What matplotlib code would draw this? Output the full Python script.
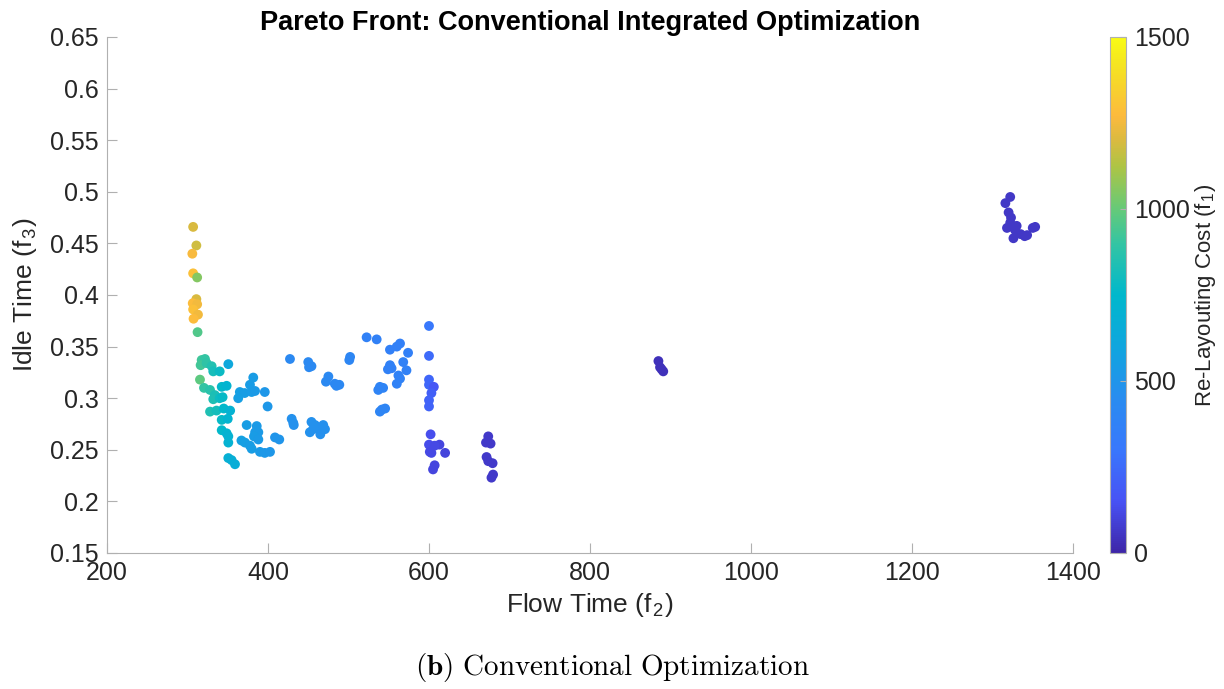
import numpy as np
import matplotlib
matplotlib.use("Agg")
import matplotlib.pyplot as plt
from matplotlib.colors import LinearSegmentedColormap

plt.rcParams['font.family'] = ['Liberation Sans', 'DejaVu Sans']
plt.rcParams['mathtext.fontset'] = 'cm'

# ---- data ----
flow_time = [
    307, 311, 306, 307, 312, 311, 306.5, 312, 307, 313, 307.5, 312.5,
    317.6, 321.7, 316.3, 323.7, 330, 332, 315.5, 340, 350.7, 320.5, 328, 342.5,
    348.6, 334, 332, 340, 343.6, 328, 336, 345, 353, 342.5, 350, 342.5, 348.6,
    350.7, 350.7, 350.7, 354.8, 359,
    381.7, 377.6, 365, 371, 379.7, 383.9, 363, 396, 399.5, 373.5, 386, 384, 388,
    382.6, 388, 367, 371.4, 377.6, 379.7, 390, 396, 402.5, 408.7, 414,
    427.3, 429.4, 431.4, 432, 450, 454, 451, 502, 501, 475, 472, 483, 488.6, 485,
    454, 458.4, 452, 462.5, 468.6, 470.8, 465, 456,
    522.5, 535, 551.5, 560, 564, 574, 568, 572, 551.5, 553.5, 549, 562, 564, 560,
    539, 543, 537, 539, 545.5, 541.5,
    600, 600, 600, 600, 606, 603, 600, 600, 602, 600, 613, 607, 603, 620, 601,
    607, 605,
    673.6, 670.8, 676.5, 671.5, 673.6, 679, 679.6, 677.6,
    885, 887, 891, 889,
    1316, 1322, 1320, 1323, 1322, 1318, 1325, 1330, 1328, 1326, 1335, 1340, 1343,
    1350, 1353,
]
idle_time = [
    0.466, 0.448, 0.440, 0.421, 0.417, 0.396, 0.392, 0.391, 0.386, 0.381, 0.377, 0.364,
    0.337, 0.338, 0.332, 0.334, 0.331, 0.326, 0.318, 0.326, 0.333, 0.310, 0.308, 0.311,
    0.312, 0.303, 0.299, 0.300, 0.301, 0.287, 0.288, 0.290, 0.288, 0.279, 0.280, 0.269,
    0.266, 0.263, 0.257, 0.242, 0.240, 0.236,
    0.320, 0.313, 0.306, 0.305, 0.306, 0.307, 0.300, 0.306, 0.292, 0.274, 0.273, 0.267,
    0.267, 0.263, 0.260, 0.259, 0.257, 0.254, 0.251, 0.248, 0.247, 0.248, 0.262, 0.260,
    0.338, 0.280, 0.276, 0.274, 0.335, 0.331, 0.330, 0.340, 0.337, 0.321, 0.316, 0.314,
    0.313, 0.312, 0.277, 0.274, 0.267, 0.271, 0.274, 0.270, 0.265, 0.270,
    0.359, 0.357, 0.347, 0.350, 0.353, 0.344, 0.335, 0.327, 0.332, 0.329, 0.328, 0.322,
    0.319, 0.314, 0.311, 0.310, 0.308, 0.287, 0.290, 0.289,
    0.370, 0.341, 0.318, 0.313, 0.311, 0.305, 0.298, 0.292, 0.265, 0.255, 0.255, 0.254,
    0.247, 0.247, 0.248, 0.235, 0.231,
    0.263, 0.257, 0.256, 0.243, 0.239, 0.237, 0.226, 0.223,
    0.336, 0.330, 0.326, 0.328,
    0.489, 0.495, 0.480, 0.475, 0.470, 0.465, 0.466, 0.467, 0.463, 0.455, 0.459, 0.457,
    0.458, 0.465, 0.466,
]
relayout_cost = [
    1200, 1180, 1260, 1290, 1050, 1200, 1280, 1250, 1290, 1250, 1280, 960,
    920, 900, 930, 890, 850, 820, 980, 780, 620, 900, 870, 760,
    720, 830, 840, 790, 770, 840, 810, 750, 700, 770, 720, 760,
    720, 700, 700, 680, 670, 660,
    540, 540, 560, 550, 540, 530, 560, 510, 510, 550, 530, 530,
    530, 540, 530, 570, 560, 550, 550, 530, 520, 510, 500, 500,
    430, 480, 480, 480, 430, 430, 430, 410, 410, 430, 430, 420,
    420, 420, 480, 480, 480, 480, 470, 470, 470, 480,
    370, 370, 360, 360, 360, 360, 370, 370, 370, 370, 370, 380,
    380, 380, 390, 390, 390, 400, 400, 400,
    300, 250, 230, 230, 170, 200, 220, 220, 140, 130, 110, 120,
    120, 100, 120, 110, 110,
    70, 70, 70, 70, 70, 70, 70, 70,
    40, 40, 40, 40,
    60, 60, 60, 60, 60, 60, 60, 60, 60, 60, 60, 60,
    60, 60, 60,
]

x_ticks = [200, 400, 600, 800, 1000, 1200, 1400]
y_ticks = [0.15, 0.2, 0.25, 0.3, 0.35, 0.4, 0.45, 0.5, 0.55, 0.6, 0.65]
y_tick_labels = ['0.15', '0.2', '0.25', '0.3', '0.35', '0.4', '0.45', '0.5', '0.55', '0.6', '0.65']
cb_ticks = [0, 500, 1000, 1500]

# parula-like colormap
parula_pts = [
    (0.000, (0.2422, 0.1504, 0.6603)),
    (0.100, (0.2810, 0.3228, 0.9579)),
    (0.200, (0.2200, 0.4700, 0.9900)),
    (0.300, (0.1600, 0.5500, 0.9400)),
    (0.400, (0.0600, 0.6500, 0.8700)),
    (0.500, (0.0000, 0.7200, 0.8000)),
    (0.600, (0.2000, 0.7700, 0.6400)),
    (0.667, (0.4000, 0.7900, 0.4700)),
    (0.750, (0.6800, 0.7700, 0.2700)),
    (0.800, (0.8500, 0.7300, 0.2500)),
    (0.850, (0.9900, 0.7300, 0.2400)),
    (0.900, (0.9700, 0.8200, 0.1800)),
    (0.950, (0.9600, 0.9000, 0.1300)),
    (1.000, (0.9769, 0.9839, 0.0805)),
]
parula = LinearSegmentedColormap.from_list('parula', parula_pts)

fig = plt.figure(figsize=(12.24, 6.89), dpi=100)
ax = fig.add_axes([107/1224, 1-553/689, (1073-107)/1224, (553-37)/689])
cax = fig.add_axes([1110/1224, 1-553/689, 16/1224, (553-37)/689])

sc = ax.scatter(flow_time, idle_time, c=relayout_cost, cmap=parula, vmin=0, vmax=1500,
                s=50, edgecolors='none')

ax.set_xlim(200, 1400)
ax.set_ylim(0.15, 0.65)
ax.set_xticks(x_ticks)
ax.set_yticks(y_ticks)
ax.set_yticklabels(y_tick_labels)
for sp in ['top', 'right']:
    ax.spines[sp].set_visible(False)
for sp in ['left', 'bottom']:
    ax.spines[sp].set_color('#b0b0b0')
    ax.spines[sp].set_linewidth(0.8)
ax.tick_params(direction='in', length=7, color='#b0b0b0', labelsize=18,
               labelcolor='#262626', pad=6)

ax.set_xlabel(r'Flow Time (f$_\mathdefault{2}$)', fontsize=19, color='#262626', labelpad=4)
ax.set_ylabel(r'Idle Time (f$_\mathdefault{3}$)', fontsize=19, color='#262626', labelpad=8)
ax.set_title('Pareto Front: Conventional Integrated Optimization', fontsize=19.5,
             fontweight='bold', pad=5)

cb = fig.colorbar(sc, cax=cax, ticks=cb_ticks)
cb.outline.set_edgecolor('#b0b0b0')
cb.outline.set_linewidth(0.8)
cax.tick_params(direction='in', length=4, color='#b0b0b0', labelsize=18,
                labelcolor='#262626', pad=6)
cb.set_label(r'Re-Layouting Cost (f$_\mathdefault{1}$)', fontsize=16, color='#262626',
             labelpad=2)

fig.text(0.5, 1-667/689, r'$\mathbf{(b)}\ \mathrm{Conventional\ Optimization}$',
         ha='center', va='center', fontsize=21)

fig.savefig('out.png', dpi=100)
